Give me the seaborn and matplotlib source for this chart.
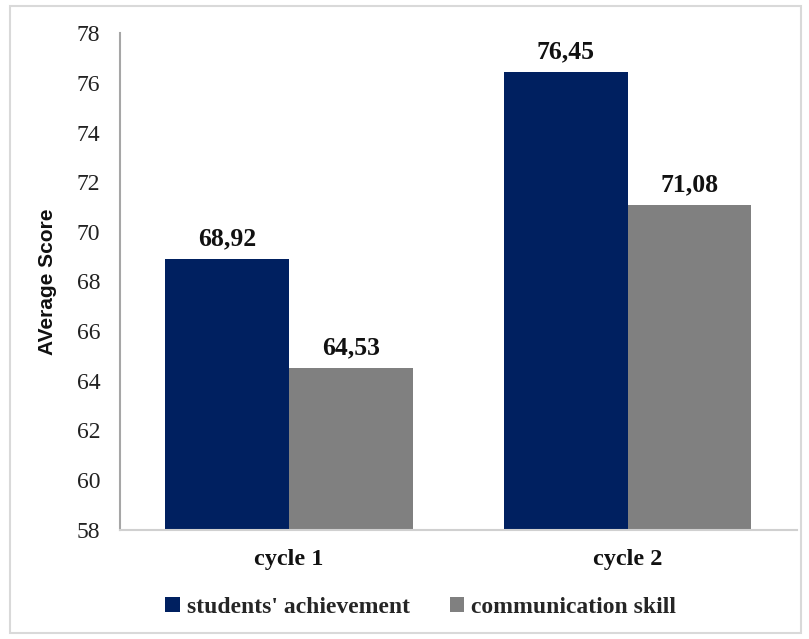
import pandas as pd
import matplotlib.pyplot as plt
import seaborn as sns
from matplotlib.patches import Rectangle

# Data
cycles = ["cycle 1", "cycle 2"]
series = ["students' achievement", "communication skill"]
achievement = [68.92, 76.45]
communication = [64.53, 71.08]
y_ticks = [58, 60, 62, 64, 66, 68, 70, 72, 74, 76, 78]

colors = ["#002060", "#808080"]

df = pd.DataFrame({
    "cycle": cycles * 2,
    "series": [series[0]] * 2 + [series[1]] * 2,
    "score": achievement + communication,
})

sns.set_theme(style="white")
plt.rcParams['font.family'] = ['Liberation Serif', 'DejaVu Sans']

fig = plt.figure(figsize=(8.09, 6.39), dpi=100)
ax = fig.add_axes([0.148, 0.171, 0.837, 0.777])

sns.barplot(data=df, x="cycle", y="score", hue="series", palette=colors,
            width=0.73, saturation=1, linewidth=0, ax=ax, legend=True)

ax.set_ylim(58, 78)
ax.set_yticks(y_ticks)
ax.set_xlim(-0.5, 1.5)

# value labels with decimal comma
for cont in ax.containers:
    labels = [f"{b.get_height():.2f}".replace(".", ",") for b in cont]
    ax.bar_label(cont, labels=labels, padding=6, fontsize=18.5, fontweight="bold",
                 color="#111111")

ax.set_xlabel("")
ax.set_ylabel("AVerage Score", family="Liberation Sans", fontsize=15,
              fontweight="bold", labelpad=14, color="#111111")
ax.tick_params(axis="y", labelsize=17, length=0, pad=14, colors="#222222")
ax.tick_params(axis="x", labelsize=17.5, length=0, pad=14)
for t in ax.get_xticklabels():
    t.set_fontweight("bold")
    t.set_color("#111111")

sns.despine(ax=ax)
ax.spines["left"].set_color("#a6a6a6")
ax.spines["left"].set_linewidth(1.5)
ax.spines["bottom"].set_color("#d0d0d0")
ax.spines["bottom"].set_linewidth(1.5)

handles, labels = ax.get_legend_handles_labels()
ax.legend_.remove()
fig.legend(handles, labels, loc="center", bbox_to_anchor=(0.52, 0.05), ncol=2,
           frameon=False, handlelength=0.6, handleheight=0.6, handletextpad=0.3,
           columnspacing=1.7, prop={"family": "Liberation Serif", "size": 17,
                                    "weight": "bold"})

# light outer border
fig.patches.append(Rectangle((0.012, 0.01), 0.978, 0.98, transform=fig.transFigure,
                             fill=False, edgecolor="#d9d9d9", linewidth=1.5))

fig.savefig("out.png", dpi=100)
